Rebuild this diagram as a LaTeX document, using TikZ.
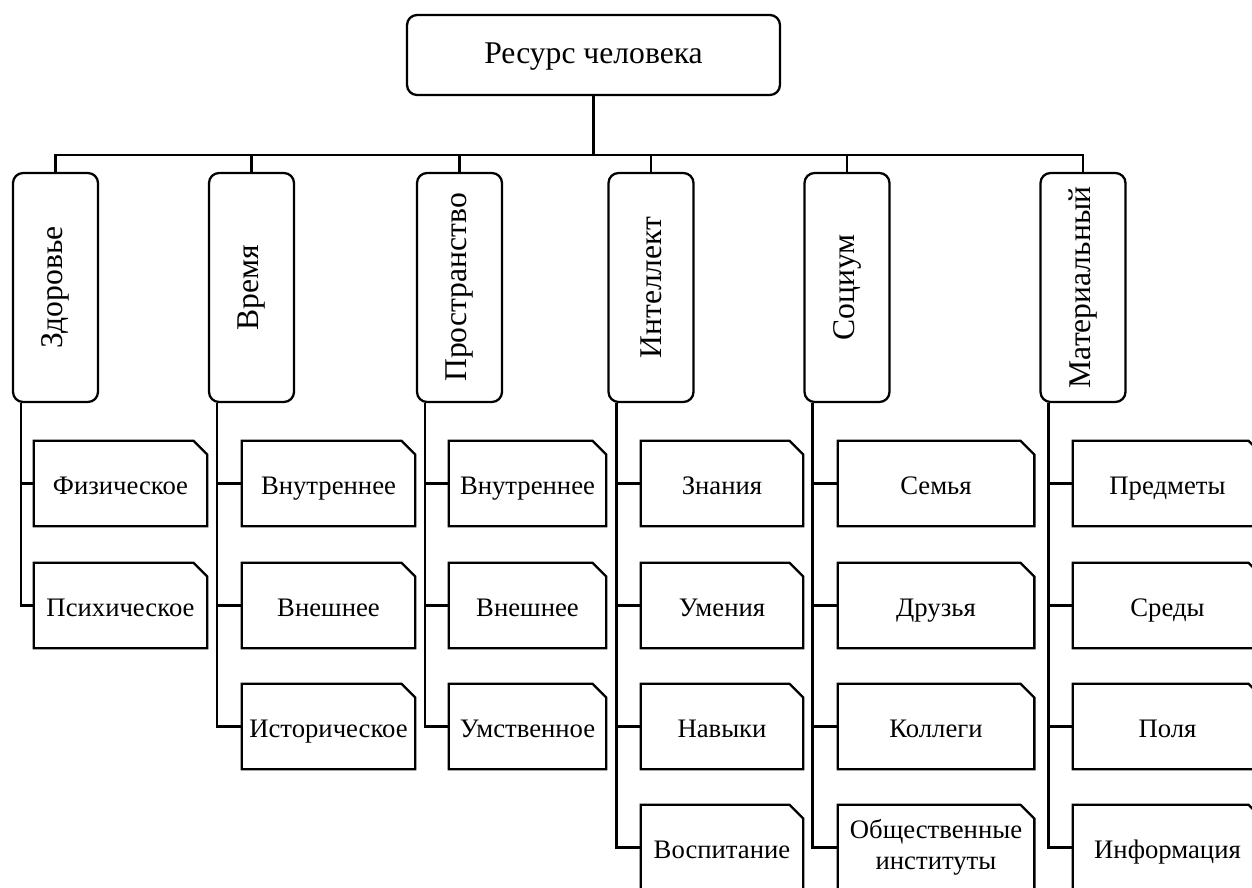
\documentclass[tikz,border=0pt]{standalone}
\usepackage{fontspec}
\setmainfont{Liberation Serif}

\tikzset{
  rootbox/.style={draw,line width=1.3pt,rounded corners=0.2cm,minimum width=7.46cm,minimum height=1.6cm,inner sep=0pt,text height=14pt,text depth=4pt,font=\fontsize{18}{21}\selectfont},
  catbox/.style={draw,line width=1.3pt,rounded corners=0.2cm,minimum width=1.7cm,minimum height=4.58cm,inner sep=0pt,font=\fontsize{18}{21}\selectfont},
  leafbox/.style={minimum width=#1*0.02cm,minimum height=1.7cm,inner sep=0pt,align=center,text height=15pt,text depth=3pt,font=\fontsize{15.2}{17.5}\selectfont},
  link/.style={line width=1.3pt}
}

\begin{document}
\begin{tikzpicture}[x=0.02cm,y=-0.02cm]
\useasboundingbox (0,0) rectangle (1252,888);
% root
\node[rootbox] (root) at (593.5,55) {Ресурс человека};
% categories
\node[catbox] (zdor) at (55.5,287.5) {\rotatebox{90}{Здоровье}};
\node[catbox] (vrem) at (251.5,287.5) {\rotatebox{90}{Время}};
\node[catbox] (prost) at (459.5,287.5) {\rotatebox{90}{Пространство}};
\node[catbox] (intel) at (651,287.5) {\rotatebox{90}{Интеллект}};
\node[catbox] (soc) at (847,287.5) {\rotatebox{90}{Социум}};
\node[catbox] (mat) at (1083,287.5) {\rotatebox{90}{Материальный}};
% leaves
\node[leafbox=173] (fiz) at (120.5,483.5) {Физическое};
\node[leafbox=173] (psih) at (120.5,605.5) {Психическое};
\node[leafbox=173] (vnutrA) at (328.5,483.5) {Внутреннее};
\node[leafbox=173] (vneshA) at (328.5,605.5) {Внешнее};
\node[leafbox=173] (istor) at (328.5,726.5) {Историческое};
\node[leafbox=157] (vnutrB) at (527.5,483.5) {Внутреннее};
\node[leafbox=157] (vneshB) at (527.5,605.5) {Внешнее};
\node[leafbox=157] (umstv) at (527.5,726.5) {Умственное};
\node[leafbox=162] (znan) at (722,483.5) {Знания};
\node[leafbox=162] (umen) at (722,605.5) {Умения};
\node[leafbox=162] (navyk) at (722,726.5) {Навыки};
\node[leafbox=162] (vospit) at (722,847.5) {Воспитание};
\node[leafbox=196] (semya) at (936,483.5) {Семья};
\node[leafbox=196] (druz) at (936,605.5) {Друзья};
\node[leafbox=196] (koll) at (936,726.5) {Коллеги};
\node[leafbox=196,text height=,text depth=] (obsh) at (936,847.5) {Общественные\\институты};
\node[leafbox=189] (predm) at (1167.5,483.5) {Предметы};
\node[leafbox=189] (sredy) at (1167.5,605.5) {Среды};
\node[leafbox=189] (polya) at (1167.5,726.5) {Поля};
\node[leafbox=189] (inform) at (1167.5,847.5) {Информация};
% leaf outlines with the cut corner
\foreach \l in {fiz,psih,vnutrA,vneshA,istor,vnutrB,vneshB,umstv,znan,umen,navyk,vospit,
  semya,druz,koll,obsh,predm,sredy,polya,inform}
  \draw[link] (\l.south west) -- (\l.north west) -- ([xshift=-0.28cm]\l.north east)
    -- ([yshift=-0.28cm]\l.north east) -- (\l.south east) -- cycle;
% bus
\coordinate (bus) at (597,155);
\draw[link] (root.south) -- (root.south |- bus);
\draw[link] (zdor.north) |- (bus) -| (mat.north);
\foreach \c in {vrem,prost,intel,soc}
  \draw[link] (\c.north) -- (\c.north |- bus);
% category to leaves
\foreach \c/\l in {zdor/fiz,zdor/psih,vrem/vnutrA,vrem/vneshA,vrem/istor,
  prost/vnutrB,prost/vneshB,prost/umstv,intel/znan,intel/umen,intel/navyk,intel/vospit,
  soc/semya,soc/druz,soc/koll,soc/obsh,mat/predm,mat/sredy,mat/polya,mat/inform}
  \draw[link] ([xshift=0.18cm]\c.south west) |- (\l.west);
\end{tikzpicture}
\end{document}
